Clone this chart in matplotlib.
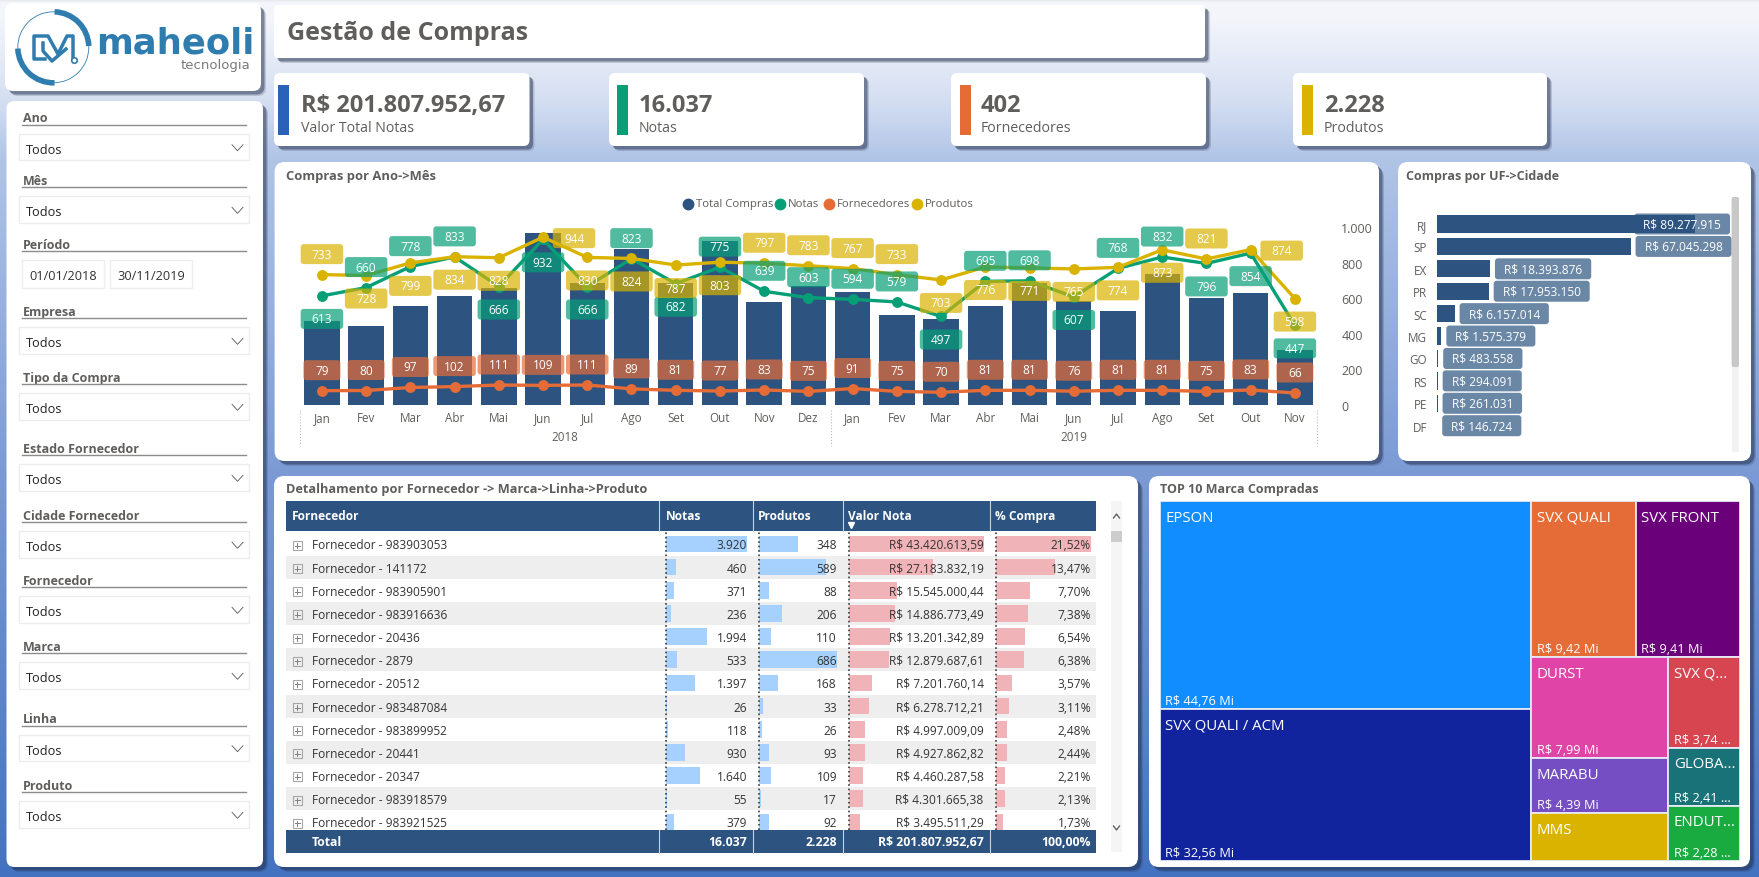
import matplotlib
matplotlib.use("Agg")
import matplotlib.pyplot as plt
import numpy as np
from matplotlib.colors import to_rgba
from matplotlib.patches import Arc, FancyBboxPatch, Rectangle
from matplotlib.ticker import FuncFormatter

plt.rcParams["font.family"] = ["Open Sans", "DejaVu Sans"]

W, H = 1759, 878
GREY = "#605E5C"
NAVY = "#2D5481"
GREEN = "#069F76"
ORANGE = "#E66C37"
YELLOW = "#D9B300"

## ----- data -----
months = ["Jan", "Fev", "Mar", "Abr", "Mai", "Jun", "Jul", "Ago", "Set", "Out", "Nov", "Dez",
          "Jan", "Fev", "Mar", "Abr", "Mai", "Jun", "Jul", "Ago", "Set", "Out", "Nov"]
total_compras = [6.6, 6.2, 7.8, 8.6, 9.2, 13.6, 9.6, 12.3, 9.6, 12.9, 8.1, 9.4,
                 8.9, 7.1, 6.8, 7.8, 9.6, 8.2, 7.4, 10.3, 8.4, 8.8, 4.3]
notas = [613, 660, 778, 833, 666, 932, 666, 823, 682, 775, 639, 603,
         594, 579, 497, 695, 698, 607, 768, 832, 796, 854, 447]
produtos = [733, 728, 799, 834, 828, 944, 830, 824, 787, 803, 797, 783,
            767, 733, 703, 776, 771, 765, 774, 873, 821, 874, 598]
fornecedores = [79, 80, 97, 102, 111, 109, 111, 89, 81, 77, 83, 75,
                91, 75, 70, 81, 81, 76, 81, 81, 75, 83, 66]
# label side of each point: a above, b below, r right
notas_side = "baaabbbabaaaaabaabaabbb"
produtos_side = "abbbbrbbbbaaaabbbbbbarb"

uf = ["RJ", "SP", "EX", "PR", "SC", "MG", "GO", "RS", "PE", "DF"]
uf_valor = [89277915, 67045298, 18393876, 17953150, 6157014, 1575379, 483558, 294091, 261031, 146724]

forn = ["983903053", "141172", "983905901", "983916636", "20436", "2879", "20512",
        "983487084", "983899952", "20441", "20347", "983918579", "983921525"]
forn_notas = [3920, 460, 371, 236, 1994, 533, 1397, 26, 118, 930, 1640, 55, 379]
forn_prod = [348, 589, 88, 206, 110, 686, 168, 33, 26, 93, 109, 17, 92]
forn_valor = [43420613.59, 27183832.19, 15545000.44, 14886773.49, 13201342.89, 12879687.61, 7201760.14,
              6278712.21, 4997009.09, 4927862.82, 4460287.58, 4301665.38, 3495511.29]
forn_pct = [21.52, 13.47, 7.70, 7.38, 6.54, 6.38, 3.57, 3.11, 2.48, 2.44, 2.21, 2.13, 1.73]

# treemap groups: (name, value, value label, colour)
tm_left = [("EPSON", 44.76, "R$ 44,76 Mi", "#118DFF"), ("SVX QUALI / ACM", 32.56, "R$ 32,56 Mi", "#12239E")]
tm_top = [("SVX QUALI", 9.42, "R$ 9,42 Mi", "#E66C37"), ("SVX FRONT", 9.41, "R$ 9,41 Mi", "#6B007B")]
tm_mid = [("DURST", 7.99, "R$ 7,99 Mi", "#E044A7"), ("MARABU", 4.39, "R$ 4,39 Mi", "#744EC2"), ("MMS", 3.75, "", "#D9B300")]
tm_right = [("SVX Q...", 3.74, "R$ 3,74 ...", "#D64550"), ("GLOBA...", 2.41, "R$ 2,41 ...", "#197278"), ("ENDUT...", 2.28, "R$ 2,28 ...", "#1AAB40")]

filtros = ["Ano", "Mês", "Período", "Empresa", "Tipo da Compra", "Estado Fornecedor",
           "Cidade Fornecedor", "Fornecedor", "Marca", "Linha", "Produto"]
filtro_linha = [125.7, 188.3, 252.3, 319.3, 385.3, 456.3, 523.3, 588.3, 654.3, 726.7, 793.3]

kpi_val = ["R$ 201.807.952,67", "16.037", "402", "2.228"]
kpi_nome = ["Valor Total Notas", "Notas", "Fornecedores", "Produtos"]
kpi_cor = ["#2A62B8", "#069F76", ORANGE, YELLOW]


def br(v, dec=0):
    s = f"{v:,.{dec}f}"
    return s.replace(",", "#").replace(".", ",").replace("#", ".")


def add_ax(x0, y0, x1, y1, z=2):
    ax = fig.add_axes([x0 / W, 1 - y1 / H, (x1 - x0) / W, (y1 - y0) / H], zorder=z)
    ax.patch.set_visible(False)
    for s in ax.spines.values():
        s.set_visible(False)
    return ax


def card(x0, y0, x1, y1, r=8):
    for off, a in ((5, 0.18), (3.5, 0.45)):
        bg.add_patch(FancyBboxPatch((x0 + r + off, y0 + r + off), x1 - x0 - 2 * r, y1 - y0 - 2 * r,
                                    boxstyle=f"round,pad={r},rounding_size={r}", fc=to_rgba("#1E2B4A", a), lw=0))
    bg.add_patch(FancyBboxPatch((x0 + r, y0 + r), x1 - x0 - 2 * r, y1 - y0 - 2 * r,
                                boxstyle=f"round,pad={r},rounding_size={r}", fc="white", lw=0))


def tag(x, y, txt, color, w=None, h=20, fs=8.6, alpha=0.7, ha_pad=18):
    t = top.text(x, y, txt, color="white", ha="center", va="center", fontsize=fs, zorder=6)
    if w is None:
        w = t.get_window_extent(rend).width + ha_pad
    r = 3
    top.add_patch(FancyBboxPatch((x - w / 2 + r, y - h / 2 + r), w - 2 * r, h - 2 * r,
                                 boxstyle=f"round,pad={r},rounding_size={r}",
                                 fc=to_rgba(color, alpha), lw=0, zorder=4))
    return t, w


fig = plt.figure(figsize=(W / 100, H / 100), dpi=100)
rend = fig.canvas.get_renderer()

bg = add_ax(0, 0, W, H, z=0)
bg.set_xlim(0, W)
bg.set_ylim(H, 0)
bg.axis("off")
top = add_ax(0, 0, W, H, z=5)
top.set_xlim(0, W)
top.set_ylim(H, 0)
top.axis("off")

# background gradient
ys = np.array([0, 3, 20, 100, 160, 470, 878])
cols = np.array([to_rgba(c)[:3] for c in ["#E4E5E8", "#F3F5FB", "#F3F5FB", "#D5DFF2", "#B0C4E6", "#7C9BD5", "#4372C0"]])
yy = np.arange(H)
grad = np.stack([np.interp(yy, ys, cols[:, i]) for i in range(3)], axis=1)[:, None, :]
bg.imshow(grad, extent=(0, W, H, 0), aspect="auto", zorder=0)

## ----- logo -----
card(5, 4, 261, 92)
cx, cy, rr = 53.3, 48.3, 35.5
logo = "#2F7DAF"
bg.add_patch(Arc((cx, cy), 2 * rr, 2 * rr, theta1=0, theta2=360, color=logo, lw=0.6, zorder=3))
bg.add_patch(Arc((cx, cy), 2 * rr, 2 * rr, theta1=272, theta2=358, color=logo, lw=4, zorder=3))
bg.add_patch(Arc((cx, cy), 2 * rr, 2 * rr, theta1=88, theta2=178, color=logo, lw=4, zorder=3))
bg.plot(np.array([45, 34, 34, 48, 58, 67, 73, 73]), np.array([60, 60, 37, 37, 55, 37, 37, 60]), color=logo, lw=2.5, zorder=3)
bg.plot(np.array([43, 43, 52, 66]), np.array([44, 52, 62, 50]), color=logo, lw=2.5, zorder=3)
bg.plot([74], [60.5], "o", mfc="white", mec=logo, ms=4, mew=1.2, zorder=3)
bg.text(96, 54, "maheoli", fontsize=25.5, fontweight="bold", color=logo, family="DejaVu Sans", va="baseline", zorder=3)
bg.text(250, 65, "tecnologia", fontsize=9.5, color="#7A7A7A", family="DejaVu Sans", ha="right", va="center", zorder=3)

## ----- filters -----
card(6.5, 102, 263, 868)
for nome, ly in zip(filtros, filtro_linha):
    bg.text(22.7, ly - 7, nome, fontsize=9, fontweight="bold", color=GREY, va="center", zorder=3)
    bg.plot([22, 246], [ly, ly], color="#8C8C8C", lw=1, zorder=3)
    if nome == "Período":
        for x0, x1, d in ((22.3, 103.7, "01/01/2018"), (110.3, 191.7, "30/11/2019")):
            bg.add_patch(Rectangle((x0, ly + 9), x1 - x0, 28, fc="white", ec="#EDEDED", lw=1, zorder=3))
            bg.text((x0 + x1) / 2, ly + 24.5, d, fontsize=9.2, color="#333333", ha="center", va="center", zorder=3)
    else:
        bg.add_patch(Rectangle((19.5, ly + 9), 229.5, 26.4, fc="white", ec="#EDEDED", lw=1, zorder=3))
        bg.text(26, ly + 24.5, "Todos", fontsize=9.2, color="#222222", va="center", zorder=3)
        bg.plot([232, 237.5, 243], [ly + 20, ly + 26, ly + 20], color="#555555", lw=0.6, zorder=3)

## ----- title and kpi cards -----
card(274, 6, 1205, 59, r=4)
bg.text(286.6, 33, "Gestão de Compras", fontsize=18, fontweight="bold", color=GREY, va="center", zorder=3)
kpi_x = [(274, 529.5, 278, 301.5), (609, 864, 616.6, 639), (951, 1206, 960, 980.6), (1293, 1547, 1302, 1324)]
for (x0, x1, xb, xt), v, n, c in zip(kpi_x, kpi_val, kpi_nome, kpi_cor):
    card(x0, 74, x1, 147, r=6)
    bg.add_patch(Rectangle((xb, 86), 11, 50, fc=c, lw=0, zorder=3))
    bg.text(xt, 106, v, fontsize=17, fontweight="bold", color=GREY, va="center", zorder=3)
    bg.text(xt, 129, n, fontsize=10.2, color=GREY, va="center", zorder=3)

## ----- compras por ano -> mes -----
card(274.6, 163, 1379, 462, r=10)
bg.text(286.5, 176.5, "Compras por Ano->Mês", fontsize=9.4, fontweight="bold", color=GREY, va="center", zorder=3)
leg = [("Total Compras", NAVY, 688), ("Notas", GREEN, 780), ("Fornecedores", ORANGE, 829), ("Produtos", YELLOW, 917)]
for nome, c, lx in leg:
    bg.plot([lx], [204.5], "o", color=c, ms=7.5, zorder=3)
    bg.text(lx + 8, 204.5, nome, fontsize=8.2, color=GREY, va="center", zorder=3)

x = np.arange(len(months))
ax_bar = add_ax(299.8, 208, 1317, 405.7, z=2)
ax_bar.bar(x, total_compras, width=0.8, color=NAVY)
ax_bar.set_xlim(-0.5, 22.5)
ax_bar.set_ylim(0, 15.62)
ax_bar.set_yticks([])
ax_bar.set_xticks([])

ax = add_ax(299.8, 208, 1317, 405.7, z=3)
ax.set_xlim(-0.5, 22.5)
ax.set_ylim(0, 1114)
ax.plot(x, fornecedores, "-o", color=ORANGE, lw=2.4, ms=6.8)
ax.plot(x, notas, "-o", color=GREEN, lw=2.4, ms=6.8)
ax.plot(x, produtos, "-o", color=YELLOW, lw=2.4, ms=6.8)
ax.set_xticks(x, months)
ax.tick_params(axis="x", length=0, pad=4.5, labelsize=8.4, labelcolor=GREY)
ax.yaxis.tick_right()
ax.set_yticks([0, 200, 400, 600, 800, 1000])
ax.yaxis.set_major_formatter(FuncFormatter(lambda v, p: br(v)))
ax.tick_params(axis="y", length=0, pad=17.5, labelsize=9, labelcolor=GREY)
for xs, ano in ((5.5, "2018"), (17, "2019")):
    ax.annotate(ano, xy=(xs, 0), xycoords="data", xytext=(0, -32), textcoords="offset pixels",
                ha="center", va="center", fontsize=8.4, color=GREY)
for xs in (-0.5, 11.5, 22.5):
    ax.plot([xs, xs], [-30, -230], ls=":", color="#BBBBBB", lw=0.8, clip_on=False)

fig.canvas.draw()


def to_px(a, dx, dy):
    px, py = a.transData.transform((dx, dy))
    return px, H - py


for i in x:
    px, py = to_px(ax, i, fornecedores[i])
    tag(px, py - 20.5, str(fornecedores[i]), ORANGE, w=26 + 5.5 * len(str(fornecedores[i])))
    px, py = to_px(ax, i, notas[i])
    side = notas_side[i]
    tag(px, py + (23 if side == "b" else -20.5), str(notas[i]), GREEN, w=42.5)
    px, py = to_px(ax, i, produtos[i])
    side = produtos_side[i]
    if side == "r":
        tag(px + 31, py + 1, str(produtos[i]), YELLOW, w=42.5)
    else:
        tag(px, py + (23 if side == "b" else -20.5), str(produtos[i]), YELLOW, w=42.5)

## ----- compras por uf -----
card(1398, 163, 1751, 462, r=10)
bg.text(1405.6, 176.5, "Compras por UF->Cidade", fontsize=9, fontweight="bold", color=GREY, va="center", zorder=3)
ax_uf = add_ax(1436.8, 213.8, 1736.8, 437.9, z=2)
uf_m = np.array(uf_valor) / 1e6
ax_uf.barh(np.arange(len(uf)), uf_m, height=0.77, color=NAVY)
ax_uf.set_xlim(0, 103.8)
ax_uf.set_ylim(9.5, -0.5)
ax_uf.set_xticks([])
ax_uf.set_yticks(np.arange(len(uf)), uf)
ax_uf.tick_params(axis="y", length=0, pad=7, labelsize=8.4, labelcolor=GREY)
for i, v in enumerate(uf_m):
    px, py = to_px(ax_uf, v, i)
    txt = "R$ " + br(uf_valor[i])
    t, w = tag(px + 5 + 44, py, txt, NAVY, h=21)
    if i == 0:
        t.set_x(1730 - w / 2)
        top.patches[-1].set_x(1730 - w + 3)
    else:
        t.set_x(px + 5 + w / 2)
        top.patches[-1].set_x(px + 5 + 3)
bg.add_patch(Rectangle((1731.6, 198), 7.4, 255, fc="#F2F2F2", lw=0, zorder=3))
bg.add_patch(FancyBboxPatch((1731.6 + 2, 200), 3.4, 166, boxstyle="round,pad=2,rounding_size=2", fc="#C8C8C8", lw=0, zorder=3))

## ----- tabela -----
card(274, 477, 1138, 868, r=10)
bg.text(286.5, 489.5, "Detalhamento por Fornecedor -> Marca->Linha->Produto", fontsize=9.2, fontweight="bold", color=GREY, va="center", zorder=3)
bg.add_patch(Rectangle((286.5, 502.3), 809.1, 29.4, fc=NAVY, lw=0, zorder=3))
bg.add_patch(Rectangle((286.5, 831), 809.1, 23.3, fc=NAVY, lw=0, zorder=3))
for sx in (659.5, 752.7, 842.7, 989.7):
    bg.plot([sx, sx], [502.3, 531.7], color="#C8D2DF", lw=0.8, zorder=4)
    bg.plot([sx, sx], [831, 854.3], color="#C8D2DF", lw=0.8, zorder=4)
for hx, h in ((292, "Fornecedor"), (665.5, "Notas"), (757.7, "Produtos"), (847.6, "Valor Nota"), (994.6, "% Compra")):
    bg.text(hx, 516.5, h, fontsize=8.6, fontweight="bold", color="white", va="center", zorder=4)
bg.plot([851.5], [526], "v", color="white", ms=4, zorder=4)

row_y = 545 + 23.15 * np.arange(len(forn))
for i, ry in enumerate(row_y):
    if i % 2 == 1:
        bg.add_patch(Rectangle((286.5, ry - 11.3), 809.1, 23, fc="#EEEEEE", lw=0, zorder=3))
    bg.add_patch(Rectangle((293, ry - 3), 9, 9, fc="none", ec="#A6A6A6", lw=0.8, zorder=4))
    bg.plot([295, 300], [ry + 1.5, ry + 1.5], color="#808080", lw=0.7, zorder=4)
    bg.plot([297.5, 297.5], [ry - 1, ry + 4], color="#808080", lw=0.7, zorder=4)
    bg.text(311.7, ry + 1, "Fornecedor - " + forn[i], fontsize=8.6, color="#333333", va="center", zorder=4)

cols_tab = [(666, 747.2, forn_notas, "#A6D0FD", [br(v) for v in forn_notas], 3920),
            (758.8, 837, forn_prod, "#A6D0FD", [br(v) for v in forn_prod], 686),
            (849.3, 983.6, forn_valor, "#F0B3B8", ["R$ " + br(v, 2) for v in forn_valor], 43420613.59),
            (995.7, 1091, forn_pct, "#F0B3B8", [br(v, 2) + "%" for v in forn_pct], 21.52)]
for x0, x1, vals, c, labels, vmax in cols_tab:
    a = add_ax(x0, 532, x1, 831, z=2)
    a.barh(np.arange(len(vals)), vals, height=0.72, color=c)
    a.set_xlim(0, vmax)
    a.set_ylim(12.35, -0.56)
    a.set_xticks([])
    a.set_yticks([])
    a.axvline(0, color="#3A3A3A", ls=":", lw=1.2, clip_on=False)
    for i, lb in enumerate(labels):
        a.annotate(lb, xy=(vmax, i), xytext=(0, -1), textcoords="offset pixels", ha="right", va="center",
                   fontsize=8.6, color="#333333")
bg.text(312, 843, "Total", fontsize=8.8, fontweight="bold", color="white", va="center", zorder=4)
tot = [(746.7, br(16037)), (836.6, br(2228)), (983.6, "R$ " + br(201807952.67, 2)), (1090.6, "100,00%")]
for tx, s in tot:
    bg.text(tx, 843, s, fontsize=8.8, fontweight="bold", color="white", ha="right", va="center", zorder=4)
bg.add_patch(Rectangle((1111, 502), 11, 351, fc="#F5F5F5", lw=0, zorder=3))
bg.add_patch(Rectangle((1111, 531.7), 11, 11, fc="#CDCDCD", lw=0, zorder=3))
bg.plot([1113.5, 1116.5, 1119.5], [519, 515, 519], color="#555555", lw=0.9, zorder=4)
bg.plot([1113.5, 1116.5, 1119.5], [827, 831, 827], color="#555555", lw=0.9, zorder=4)

## ----- treemap -----
card(1149, 477, 1750, 868, r=10)
bg.text(1159.7, 489.5, "TOP 10 Marca Compradas", fontsize=9, fontweight="bold", color=GREY, va="center", zorder=3)
ax_tm = add_ax(1159.7, 502.3, 1739.7, 861.7, z=2)
ax_tm.set_xticks([])
ax_tm.set_yticks([])


def soma(g):
    return sum(i[1] for i in g)


tm_total = soma(tm_left) + soma(tm_top) + soma(tm_mid) + soma(tm_right)
ax_tm.set_xlim(0, tm_total)
ax_tm.set_ylim(1, 0)


def cell(x0, y0, w, h, item):
    nome, v, lb, c = item
    ax_tm.add_patch(Rectangle((x0, y0), w, h, fc=c, ec="#E6EAF6", lw=1.3))
    px, py = to_px(ax_tm, x0, y0)
    qx, qy = to_px(ax_tm, x0 + w, y0 + h)
    top.text(px + 5.5, py + 16, nome, fontsize=10.8, color="white", va="center")
    if lb:
        top.text(px + 5.5, qy - 8.5, lb, fontsize=9.2, color="white", va="center")


def stack(g, x0, y0, w, h):
    # split the height of a column in proportion to the values
    yp = y0
    for item in g:
        ch = h * item[1] / soma(g)
        cell(x0, yp, w, ch, item)
        yp += ch


wl = soma(tm_left)
stack(tm_left, 0, 0, wl, 1)
rest = tm_total - wl
h_top = soma(tm_top) / rest
xp = wl
for item in tm_top:
    cell(xp, 0, item[1] / h_top, h_top, item)
    xp += item[1] / h_top
wm = soma(tm_mid) / (1 - h_top)
stack(tm_mid, wl, h_top, wm, 1 - h_top)
stack(tm_right, wl + wm, h_top, soma(tm_right) / (1 - h_top), 1 - h_top)

fig.savefig("out.png", dpi=100)
